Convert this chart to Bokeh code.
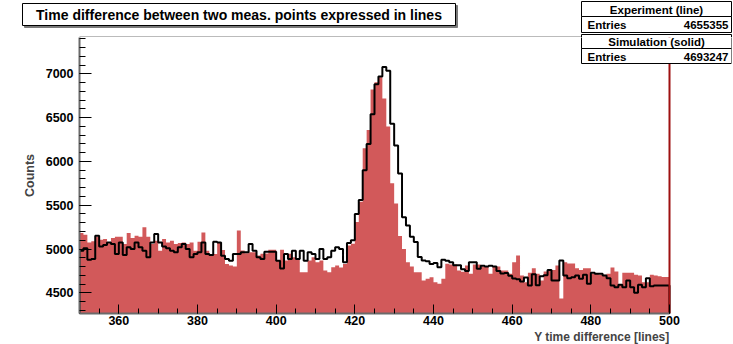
import numpy as np
from bokeh.plotting import figure
from bokeh.layouts import column
from bokeh.models import Range1d, Label, BoxAnnotation, FixedTicker, Title
from bokeh.embed import file_html
from bokeh.resources import INLINE

# ---- data ----
x_start = 350
x_stop = 500
y_bottom = 4264
y_top = 7415

# Experiment (line): counts per 1-line bin, 350..499
exp_counts = [
    4981, 5008, 4878, 4886, 5152, 5030, 5046, 5076, 5057, 4943,
    5076, 4931, 5019, 5000, 5076, 5019, 4981, 4905, 5076, 5171,
    5076, 5030, 5008, 4981, 4962, 5019, 5057, 5000, 4905, 4943,
    4962, 5076, 4943, 4931, 5084, 5076, 4924, 4886, 4867, 4943,
    4943, 4962, 4962, 5057, 4981, 4905, 4886, 4970, 4970, 4970,
    4867, 4779, 4943, 4886, 4981, 4886, 4981, 4867, 4962, 4943,
    4886, 5000, 4886, 4905, 4981, 5019, 5000, 4850, 5070, 5100,
    5400, 5560, 5900, 6200, 6540, 6880, 6970, 7077, 7035, 6430,
    6182, 5862, 5363, 5269, 5140, 5080, 4910, 4870, 4860, 4830,
    4840, 4793, 4877, 4865, 4850, 4815, 4815, 4770, 4750, 4850,
    4850, 4775, 4810, 4800, 4810, 4800, 4750, 4720, 4725, 4695,
    4665, 4655, 4630, 4675, 4583, 4712, 4587, 4690, 4700, 4760,
    4640, 4640, 4869, 4697, 4667, 4678, 4697, 4660, 4705, 4603,
    4728, 4717, 4717, 4697, 4667, 4583, 4564, 4591, 4564, 4640,
    4564, 4500, 4591, 4564, 4667, 4575, 4583, 4583, 4583, 4583,
]

# Simulation (solid): counts per 1-line bin, 350..499
sim_counts = [
    5183, 5164, 5076, 5088, 5141, 5107, 5114, 5065, 5126, 5141,
    5141, 5057, 5183, 5126, 5152, 5141, 5248, 5141, 5057, 5095,
    4981, 5114, 5076, 5095, 5057, 5069, 5076, 5057, 5076, 4981,
    5084, 5190, 4981, 4943, 4943, 5076, 4990, 4830, 4812, 4800,
    5211, 4983, 4952, 4964, 4964, 4926, 4945, 4950, 4991, 4991,
    4869, 4991, 4869, 4945, 4907, 4877, 4735, 4735, 4869, 4907,
    4850, 4869, 4755, 4735, 4793, 4812, 4790, 4830, 5040, 5060,
    5310, 5540, 6150, 6360, 6820, 6905, 6960, 6720, 6400, 5750,
    5520, 5150, 5000, 4850, 4800, 4735, 4735, 4640, 4660, 4678,
    4620, 4603, 4660, 4831, 4823, 4823, 4755, 4740, 4812, 4717,
    4823, 4823, 4800, 4800, 4717, 4800, 4800, 4755, 4755, 4717,
    4850, 4926, 4697, 4620, 4728, 4781, 4717, 4640, 4743, 4760,
    4760, 4812, 4435, 4850, 4835, 4835, 4781, 4760, 4781, 4781,
    4717, 4717, 4705, 4705, 4717, 4790, 4743, 4600, 4728, 4728,
    4728, 4705, 4697, 4620, 4620, 4705, 4697, 4690, 4680, 4680,
]

x_major = [360, 380, 400, 420, 440, 460, 480, 500]
x_minor = list(range(350, 501, 5))
y_major = [4500, 5000, 5500, 6000, 6500, 7000]
y_minor = list(range(4300, 7500, 100))

title_text = "Time difference between two meas. points expressed in lines"
x_title = "Y time difference [lines]"
y_title = "Counts"
stats = [("Experiment (line)", "Entries", "4655355"),
         ("Simulation (solid)", "Entries", "4693247")]

# ---- layout (pixels, absolute page coordinates) ----
W, H = 733, 344
AX_L, AX_R, AX_T, AX_B = 79, 669, 37, 313     # histogram frame
CANVAS_R = 731                                 # main frame extends right so the stats box shows
HEAD_H = AX_T
px_per_x = (AX_R - AX_L) / (x_stop - x_start)
x_end = x_stop + (CANVAS_R - AX_R) / px_per_x

FONT = "Liberation Sans"

# ---------------- header strip (title + stats) ----------------
head = figure(width=W, height=HEAD_H, output_backend="svg", toolbar_location=None,
              title_location=None, x_axis_location=None, y_axis_location=None,
              x_range=Range1d(0, W), y_range=Range1d(HEAD_H, 0),
              min_border=0, min_border_left=0, min_border_right=0,
              min_border_top=0, min_border_bottom=0)
head.outline_line_color = None
head.xgrid.visible = False
head.ygrid.visible = False
head.background_fill_color = "white"
head.border_fill_color = "white"

# ---------------- main plot ----------------
p = figure(width=W, height=H - HEAD_H, output_backend="svg", toolbar_location=None,
           title_location=None,
           x_range=Range1d(x_start, x_end), y_range=Range1d(y_bottom, y_top),
           min_border_left=AX_L, min_border_right=W - CANVAS_R,
           min_border_top=0, min_border_bottom=H - AX_B)
p.background_fill_color = "white"
p.border_fill_color = "white"
p.xgrid.visible = False
p.ygrid.visible = False
p.outline_line_color = None

# keep each figure's frame where it is set (no cross-figure alignment)
for fig in (head, p):
    if "frame_align" in fig.properties():
        fig.frame_align = False

edges = np.arange(x_start, x_stop + 1)
sim = np.array(sim_counts, dtype=float)
exp = np.array(exp_counts, dtype=float)
low = y_bottom - 1000

# simulation: filled histogram
sx_pts = np.repeat(edges, 2)
sy_pts = np.concatenate([[low], np.repeat(sim, 2), [low]])
p.patch(sx_pts, sy_pts, fill_color="#d2595a", line_color=None)

# experiment: outline histogram
ey_pts = np.concatenate([[low], np.repeat(exp, 2), [low]])
p.line(sx_pts, ey_pts, line_color="black", line_width=2)

# right edge of the frame (dark red)
p.segment(x0=[x_stop], y0=[y_bottom], x1=[x_stop], y1=[y_top + 1000],
          line_color="#9e1010", line_width=2)

# axes styling
for ax in (p.xaxis[0], p.yaxis[0]):
    ax.axis_line_color = "#6a6a6a"
    ax.axis_line_width = 2
    ax.major_tick_line_color = "black"
    ax.minor_tick_line_color = "black"
    ax.major_tick_out = 0
    ax.minor_tick_out = 0
    ax.major_label_text_font = FONT
    ax.major_label_text_font_style = "bold"
    ax.major_label_text_font_size = "12.5px"
    ax.major_label_text_color = "black"

p.xaxis.bounds = (x_start, x_stop)
p.xaxis.ticker = FixedTicker(ticks=x_major, minor_ticks=x_minor)
p.xaxis.major_tick_in = 9
p.xaxis.minor_tick_in = 5
p.xaxis.major_label_standoff = 2

p.yaxis.bounds = (y_bottom, y_top)
p.yaxis.ticker = FixedTicker(ticks=y_major, minor_ticks=y_minor)
p.yaxis.major_tick_in = 12
p.yaxis.minor_tick_in = 6
p.yaxis.major_label_standoff = 6
p.yaxis.axis_label = y_title
p.yaxis.axis_label_text_font = FONT
p.yaxis.axis_label_text_font_style = "bold"
p.yaxis.axis_label_text_font_size = "12.5px"
p.yaxis.axis_label_standoff = 6

p.add_layout(Title(text=x_title, align="right", offset=CANVAS_R - AX_R, standoff=0,
                   text_font=FONT, text_font_style="bold",
                   text_font_size="12px"), "below")


# helpers: absolute page pixel -> coordinates of each figure
def head_box(x1, y1, x2, y2, fill="white", line="black", lw=1):
    head.add_layout(BoxAnnotation(left=x1, right=x2, top=y1, bottom=y2,
                                  fill_color=fill, fill_alpha=1.0,
                                  line_color=line, line_alpha=1.0, line_width=lw))


def head_label(X, Y, text, size="11px", align="center"):
    head.add_layout(Label(x=X, y=Y, text=text, text_font=FONT, text_font_style="bold",
                          text_font_size=size, text_align=align, text_baseline="middle",
                          text_color="black"))


def main_box(x1, y1, x2, y2, fill="white", line="black", lw=1):
    p.add_layout(BoxAnnotation(left=x1 - AX_L, right=x2 - AX_L, top=AX_B - y1, bottom=AX_B - y2,
                               left_units="screen", right_units="screen",
                               top_units="screen", bottom_units="screen",
                               fill_color=fill, fill_alpha=1.0,
                               line_color=line, line_alpha=1.0, line_width=lw))


def main_label(X, Y, text, size="11px", align="center"):
    p.add_layout(Label(x=X - AX_L, y=AX_B - Y, x_units="screen", y_units="screen",
                       text=text, text_font=FONT, text_font_style="bold",
                       text_font_size=size, text_align=align, text_baseline="middle",
                       text_color="black"))


# frame top edge (grey), drawn at the bottom of the header strip
head.segment(x0=[AX_L], y0=[HEAD_H - 0.5], x1=[581], y1=[HEAD_H - 0.5],
             line_color="#777777", line_width=1)

# title box with shadow
head_box(24, 5, 457, 27, fill="#7a7a7a", line="#7a7a7a")
head_box(22, 3, 455, 25)
head_label(238.5, 14.5, title_text, size="14px")

# stats box 1 (entirely in the header)
(h1, k1, v1), (h2, k2, v2) = stats
head_box(581, 1, 731, 16)
head_box(581, 16, 731, 32)
head_label(656, 9, h1, size="11.5px")
head_label(587, 24.5, k1, size="11.5px", align="left")
head_label(728, 24.5, v1, size="11.5px", align="right")

# stats box 2 (crosses the header/main boundary: draw in both)
head_box(581, 34, 731, 48)
main_box(581, 34, 731, 48)
main_box(581, 48, 731, 63)
main_label(656, 41.5, h2, size="11.5px")
main_label(587, 56, k2, size="11.5px", align="left")
main_label(728, 56, v2, size="11.5px", align="right")

layout = column(head, p, spacing=0)
open("out.html", "w").write(file_html(layout, INLINE))
